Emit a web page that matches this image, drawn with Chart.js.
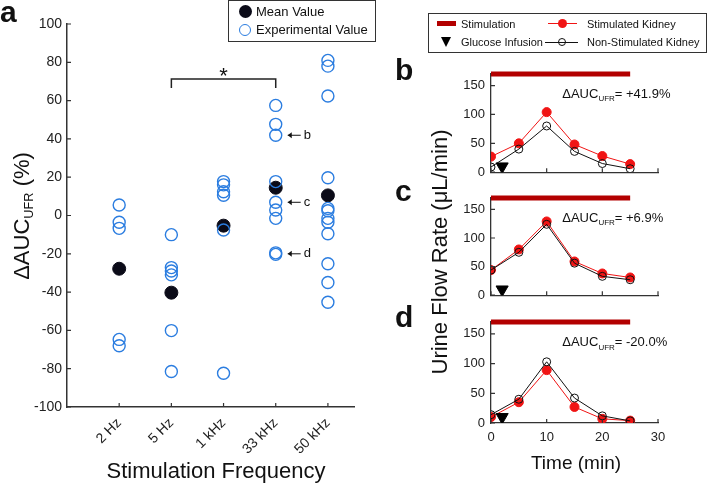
<!DOCTYPE html>
<html><head><meta charset="utf-8">
<script src="https://cdn.jsdelivr.net/npm/chart.js@4.4.1/dist/chart.umd.min.js"></script>
<style>
html,body{margin:0;padding:0;background:#fff;}
body{width:708px;height:485px;position:relative;overflow:hidden;font-family:"Liberation Sans",Arial,sans-serif;color:#111;}
canvas{position:absolute;}
.abs{position:absolute;white-space:nowrap;}
.pl{font-weight:bold;font-size:30px;line-height:30px;}
.rot{transform:translate(-50%,-50%) rotate(-90deg);}
.ctr{transform:translate(-50%,-50%);}
.sub{font-size:58%;vertical-align:-0.35em;line-height:0;}
.lg{font-size:13px;line-height:16px;}
.lg2{font-size:11px;line-height:14px;}
</style></head><body>
<canvas id="ca" width="400" height="485" style="left:0;top:0"></canvas>
<canvas id="cb" width="258" height="126" style="left:450px;top:60px"></canvas>
<canvas id="cc" width="258" height="125" style="left:450px;top:184px"></canvas>
<canvas id="cd" width="258" height="147" style="left:450px;top:308px"></canvas>

<div class="abs pl" style="left:0;top:-3px">a</div>
<div class="abs pl" style="left:395px;top:55px">b</div>
<div class="abs pl" style="left:395px;top:176px">c</div>
<div class="abs pl" style="left:395px;top:302px">d</div>

<div class="abs rot" style="left:22px;top:216px;font-size:22px;">ΔAUC<span class="sub">UFR</span> (%)</div>
<div class="abs ctr" style="left:216px;top:471px;font-size:22px;">Stimulation Frequency</div>
<div class="abs rot" style="left:440px;top:252px;font-size:22px;">Urine Flow Rate (μL/min)</div>
<div class="abs ctr" style="left:576px;top:463px;font-size:19px;">Time (min)</div>

<!-- legend a -->
<div class="abs" style="left:228px;top:0;width:148px;height:42px;box-sizing:border-box;border:1.2px solid #333;background:#fff"></div>
<div class="abs" style="left:238.5px;top:5px;width:13px;height:13px;border-radius:50%;background:#0b0b18"></div>
<div class="abs lg" style="left:256px;top:4px">Mean Value</div>
<div class="abs" style="left:239px;top:24px;width:12px;height:12px;box-sizing:border-box;border-radius:50%;border:1.5px solid #2b7de0"></div>
<div class="abs lg" style="left:256px;top:22px">Experimental Value</div>

<!-- legend right -->
<div class="abs" style="left:428px;top:13px;width:279px;height:40px;box-sizing:border-box;border:1px solid #333;background:#fff"></div>
<div class="abs" style="left:437px;top:21px;width:19px;height:5px;background:#b30000"></div>
<div class="abs lg2" style="left:461px;top:16.5px">Stimulation</div>
<div class="abs" style="left:548px;top:23px;width:29px;height:1px;background:#f01414"></div>
<div class="abs" style="left:557.5px;top:18.8px;width:9px;height:9px;border-radius:50%;background:#f01414"></div>
<div class="abs lg2" style="left:587px;top:16.5px">Stimulated Kidney</div>
<div class="abs" style="left:441px;top:37px;width:0;height:0;border-left:5.5px solid transparent;border-right:5.5px solid transparent;border-top:10px solid #000"></div>
<div class="abs lg2" style="left:461px;top:34.7px">Glucose Infusion</div>
<div class="abs" style="left:545px;top:41.5px;width:33px;height:1px;background:#111"></div>
<div class="abs" style="left:558px;top:37.7px;width:8px;height:8px;box-sizing:border-box;border-radius:50%;border:1px solid #111"></div>
<div class="abs lg2" style="left:587px;top:34.7px">Non-Stimulated Kidney</div>

<script>
// ---------- data: panel a ----------
const categories = ['2 Hz', '5 Hz', '1 kHz', '33 kHz', '50 kHz'];
const meanValues = [-27.8, -40.3, -5.3, 14.5, 10.5];
const exp2Hz   = [5.5, -3.5, -6.7, -64.7, -68.0];
const exp5Hz   = [-10.0, -27.2, -29.0, -31.0, -60.1, -81.5];
const exp1kHz  = [17.7, 16.0, 12.4, 10.6, -7.6, -82.4];
const exp33kHz = [57.5, 47.6, 41.9, 17.7, 6.9, 2.9, -1.5, -19.5, -20.3];
const exp50kHz = [81.0, 78.0, 62.4, 19.7, 3.7, 2.5, -1.5, -3.5, -9.5, -25.2, -35.0, -45.3];
const yTicksA = [-100, -80, -60, -40, -20, 0, 20, 40, 60, 80, 100];
const sigPair = ['5 Hz', '33 kHz'];
const sigLevel = 71.3;
const panelLabels = ['b', 'c', 'd'];
const deltaAUC = [41.9, 6.9, -20.0];

// ---------- data: panels b, c, d ----------
const timeMin = [0, 5, 10, 15, 20, 25];
const stimB = [27, 50, 104, 48, 28, 14];
const nonB  = [9, 40, 80, 36, 15, 6];
const stimC = [44, 80, 129, 59, 38, 31];
const nonC  = [44, 75, 124, 56, 33, 27];
const stimD = [10, 35, 89, 27, 7, 4];
const nonD  = [14, 40, 103, 42, 12, 3.5];
const stimulationWindow = [0, 25];
const stimulationLevel = 170;
const glucoseTime = 2;
const glucoseLevel = 10;
const yTicksFlow = [0, 50, 100, 150];
const xTicksTime = [0, 10, 20, 30];

const FONT = '"Liberation Sans", Arial, sans-serif';
Chart.defaults.font.family = FONT;
Chart.defaults.color = '#222';

const AXIS = '#333';
const BLUE = '#2b7de0';
const RED = '#f01414';

const inwardTicks = {
  id: 'inwardTicks',
  afterDraw(chart) {
    const {ctx, chartArea: {left, bottom}} = chart;
    const xs = chart.scales.x, ys = chart.scales.y;
    ctx.save();
    ctx.strokeStyle = AXIS; ctx.lineWidth = 1.2;
    ctx.beginPath();
    xs.ticks.forEach(t => { const p = xs.getPixelForValue(t.value); ctx.moveTo(p, bottom); ctx.lineTo(p, bottom - 4); });
    ys.ticks.forEach(t => { const p = ys.getPixelForValue(t.value); ctx.moveTo(left, p); ctx.lineTo(left + 4, p); });
    ctx.stroke();
    ctx.restore();
  }
};

const annotA = {
  id: 'annotA',
  afterDatasetsDraw(chart) {
    const {ctx} = chart; const x = chart.scales.x, y = chart.scales.y;
    ctx.save();
    ctx.strokeStyle = '#222'; ctx.lineWidth = 1.5;
    const x1 = x.getPixelForValue(categories.indexOf(sigPair[0]) + 1);
    const x2 = x.getPixelForValue(categories.indexOf(sigPair[1]) + 1);
    const yb = y.getPixelForValue(sigLevel);
    const yd = y.getPixelForValue(sigLevel - 4.7);
    ctx.beginPath(); ctx.moveTo(x1, yd); ctx.lineTo(x1, yb); ctx.lineTo(x2, yb); ctx.lineTo(x2, yd); ctx.stroke();
    ctx.fillStyle = '#111'; ctx.font = '22px ' + FONT; ctx.textAlign = 'center'; ctx.textBaseline = 'alphabetic';
    ctx.fillText('*', (x1 + x2) / 2, yb + 4);
    // arrows to the examples shown in b, c, d
    const xc = x.getPixelForValue(categories.indexOf('33 kHz') + 1);
    ctx.lineWidth = 1; ctx.strokeStyle = '#111';
    ctx.font = '13px ' + FONT; ctx.textAlign = 'left'; ctx.textBaseline = 'middle';
    deltaAUC.forEach((v, i) => {
      const py = y.getPixelForValue(v);
      const ax = xc + 12;
      ctx.beginPath(); ctx.moveTo(ax, py); ctx.lineTo(ax + 13, py); ctx.stroke();
      ctx.beginPath(); ctx.moveTo(ax, py); ctx.lineTo(ax + 4, py - 3); ctx.lineTo(ax + 4, py + 3); ctx.closePath(); ctx.fill();
      ctx.fillText(panelLabels[i], ax + 16, py);
    });
    ctx.restore();
  }
};

function pts(arr, i) { return arr.map(v => ({x: i + 1, y: v})); }
const expData = [exp2Hz, exp5Hz, exp1kHz, exp33kHz, exp50kHz].flatMap((arr, i) => pts(arr, i));
const meanData = meanValues.map((v, i) => ({x: i + 1, y: v}));

new Chart(document.getElementById('ca'), {
  type: 'scatter',
  data: {datasets: [
    {label: 'Experimental Value', data: expData, pointStyle: 'circle', pointRadius: 6, pointBorderWidth: 1.4,
     borderColor: BLUE, backgroundColor: 'rgba(0,0,0,0)', order: 1},
    {label: 'Mean Value', data: meanData, pointStyle: 'circle', pointRadius: 6.5, pointBorderWidth: 1,
     borderColor: '#0b0b18', backgroundColor: '#0b0b18', order: 2}
  ]},
  options: {
    responsive: false, animation: false, events: [],
    layout: {padding: {top: 24, right: 46, left: 0, bottom: 0}},
    plugins: {legend: {display: false}, tooltip: {enabled: false}},
    scales: {
      x: {type: 'linear', min: 0, max: 5.5,
          afterBuildTicks: s => { s.ticks = categories.map((c, i) => ({value: i + 1})); },
          afterFit: s => { s.height = 78; },
          ticks: {callback: v => categories[Math.round(v) - 1], minRotation: 45, maxRotation: 45,
                  font: {size: 14}, color: '#222', padding: 8, autoSkip: false},
          grid: {display: false, drawTicks: false}, border: {color: AXIS, width: 1.5}},
      y: {min: -100, max: 100,
          afterBuildTicks: s => { s.ticks = yTicksA.map(v => ({value: v})); },
          afterFit: s => { s.width = 67; },
          ticks: {font: {size: 14}, color: '#222', padding: 5},
          grid: {display: false, drawTicks: false}, border: {color: AXIS, width: 1.5}}
    }
  },
  plugins: [inwardTicks, annotA]
});

function aucText(label) {
  return {
    id: 'auc',
    afterDatasetsDraw(chart) {
      const {ctx} = chart; const x = chart.scales.x, y = chart.scales.y;
      let px = x.getPixelForValue(12.8); const py = y.getPixelForValue(135);
      ctx.save(); ctx.fillStyle = '#111'; ctx.textBaseline = 'middle'; ctx.textAlign = 'left';
      ctx.font = '13px ' + FONT; ctx.fillText('ΔAUC', px, py); px += ctx.measureText('ΔAUC').width;
      ctx.font = '8px ' + FONT; ctx.fillText('UFR', px, py + 5); px += ctx.measureText('UFR').width;
      ctx.font = '13px ' + FONT; ctx.fillText('= ' + label, px, py);
      ctx.restore();
    }
  };
}

function fmt(v) { return (v > 0 ? '+' : '') + v.toFixed(1) + '%'; }

function panel(id, stim, non, auc, showX, xAxisH) {
  new Chart(document.getElementById(id), {
    type: 'scatter',
    data: {datasets: [
      {label: 'Glucose Infusion', data: [{x: glucoseTime, y: glucoseLevel}], pointStyle: 'triangle', rotation: 180,
       pointRadius: 7, borderColor: '#000', backgroundColor: '#000', order: 0},
      {label: 'Non-Stimulated Kidney', data: timeMin.map((t, i) => ({x: t, y: non[i]})), showLine: true,
       borderColor: '#111', borderWidth: 1, pointRadius: 4, pointBorderWidth: 1, pointBorderColor: '#111',
       pointBackgroundColor: 'rgba(0,0,0,0)', backgroundColor: 'rgba(0,0,0,0)', order: 1},
      {label: 'Stimulated Kidney', data: timeMin.map((t, i) => ({x: t, y: stim[i]})), showLine: true,
       borderColor: RED, borderWidth: 1, pointRadius: 4.5, pointBorderWidth: 1, pointBorderColor: RED,
       pointBackgroundColor: RED, backgroundColor: RED, order: 2},
      {label: 'Stimulation', data: stimulationWindow.map(t => ({x: t, y: stimulationLevel})), showLine: true,
       borderColor: '#b30000', borderWidth: 5, pointRadius: 0, clip: false, borderCapStyle: 'butt', order: 3}
    ]},
    options: {
      responsive: false, animation: false, events: [],
      layout: {padding: {top: 14, right: 50, left: 0, bottom: 0}},
      plugins: {legend: {display: false}, tooltip: {enabled: false}},
      scales: {
        x: {type: 'linear', min: 0, max: 30,
            afterBuildTicks: s => { s.ticks = xTicksTime.map(v => ({value: v})); },
            afterFit: s => { s.height = xAxisH; },
            ticks: {display: showX, font: {size: 13}, color: '#222', padding: 7, maxRotation: 0},
            grid: {display: false, drawTicks: false}, border: {color: AXIS, width: 1.3}},
        y: {min: 0, max: 170,
            afterBuildTicks: s => { s.ticks = yTicksFlow.map(v => ({value: v})); },
            afterFit: s => { s.width = 41; },
            ticks: {font: {size: 13}, color: '#222', padding: 6},
            grid: {display: false, drawTicks: false}, border: {color: AXIS, width: 1.3}}
      }
    },
    plugins: [inwardTicks, aucText(fmt(auc))]
  });
}

panel('cb', stimB, nonB, deltaAUC[0], false, 10);
panel('cc', stimC, nonC, deltaAUC[1], false, 10);
panel('cd', stimD, nonD, deltaAUC[2], true, 32);
</script>
</body></html>
